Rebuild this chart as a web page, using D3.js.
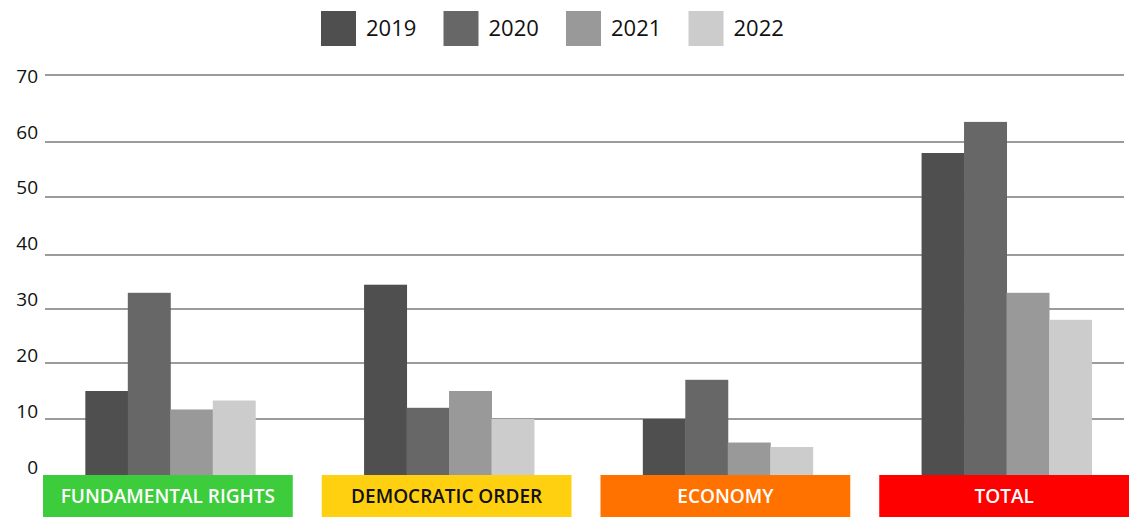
<!DOCTYPE html>
<html>
<head>
<meta charset="utf-8">
<script src="https://cdn.jsdelivr.net/npm/d3@7"></script>
<style>
  body { margin: 0; background: #fff; }
  svg { display: block; font-family: "Open Sans", sans-serif; }
</style>
</head>
<body>
<svg id="chart" width="1132" height="517"></svg>
<script>
// data
const categories = ["FUNDAMENTAL RIGHTS", "DEMOCRATIC ORDER", "ECONOMY", "TOTAL"];
const years = ["2019", "2020", "2021", "2022"];
const values2019 = [15, 34.5, 10, 58];
const values2020 = [33, 12, 17, 63];
const values2021 = [11.7, 15, 5.8, 33];
const values2022 = [13.3, 10, 5, 28];
const yTicks = [0, 10, 20, 30, 40, 50, 60, 70];

const yearColors = ["#4f4f4f", "#676767", "#999999", "#cccccc"];
const catColors = ["#3ccc3c", "#ffd010", "#ff7200", "#ff0000"];
const catText = ["#fff", "#111", "#fff", "#fff"];

const series = [values2019, values2020, values2021, values2022];
const data = categories.map((c, i) => ({
    cat: c,
    vals: years.map((y, j) => ({ year: y, value: series[j][i] }))
}));

const svg = d3.select("#chart");

// the original gridlines are not evenly spaced, so a piecewise scale follows them
const y = d3.scaleLinear()
    .domain(yTicks)
    .range([475, 419, 363, 309, 255, 197, 142, 75]);

// tick labels are evenly spaced though
const yLabel = d3.scaleLinear()
    .domain([0, 70])
    .range([467, 76]);

const x = d3.scaleBand()
    .domain(categories)
    .range([43, 1129])
    .paddingInner(0.104);

const xInner = d3.scaleBand()
    .domain(years)
    .range([0, x.bandwidth()])
    .paddingOuter(0.94)
    .align(0.53);

// gridlines
svg.append("g")
    .selectAll("line")
    .data(yTicks.filter(d => d > 0))
    .enter()
    .append("line")
    .attr("x1", 45)
    .attr("x2", 1124)
    .attr("y1", d => y(d))
    .attr("y2", d => y(d))
    .attr("stroke", "#7a7a7a")
    .attr("stroke-width", 1.3);

// y labels
svg.append("g")
    .selectAll("text")
    .data(yTicks)
    .enter()
    .append("text")
    .attr("x", 38)
    .attr("y", d => yLabel(d))
    .attr("dy", "0.35em")
    .attr("text-anchor", "end")
    .attr("font-size", 19)
    .attr("fill", "#111")
    .text(d => d);

// bars
const groups = svg.selectAll(".group")
    .data(data)
    .enter()
    .append("g")
    .attr("class", "group")
    .attr("transform", d => `translate(${x(d.cat)},0)`);

groups.selectAll("rect")
    .data(d => d.vals)
    .enter()
    .append("rect")
    .attr("x", d => xInner(d.year))
    .attr("width", xInner.bandwidth() + 0.5)
    .attr("y", d => y(d.value))
    .attr("height", d => y(0) - y(d.value))
    .attr("fill", (d, i) => yearColors[i]);

// category label boxes
groups.append("rect")
    .attr("x", 0)
    .attr("y", y(0))
    .attr("width", x.bandwidth())
    .attr("height", 517 - y(0))
    .attr("fill", (d, i) => catColors[i]);

groups.append("text")
    .attr("x", x.bandwidth() / 2)
    .attr("y", 496)
    .attr("dy", "0.35em")
    .attr("text-anchor", "middle")
    .attr("font-size", 19)
    .attr("font-weight", 600)
    .attr("fill", (d, i) => catText[i])
    .text(d => d.cat);

// legend
const legend = svg.append("g")
    .selectAll("g")
    .data(years)
    .enter()
    .append("g")
    .attr("transform", (d, i) => `translate(${321 + i * 122.5},11)`);

legend.append("rect")
    .attr("width", 35)
    .attr("height", 35)
    .attr("fill", (d, i) => yearColors[i]);

legend.append("text")
    .attr("x", 45)
    .attr("y", 17.5)
    .attr("dy", "0.35em")
    .attr("font-size", 22)
    .attr("fill", "#111")
    .text(d => d);
</script>
</body>
</html>
